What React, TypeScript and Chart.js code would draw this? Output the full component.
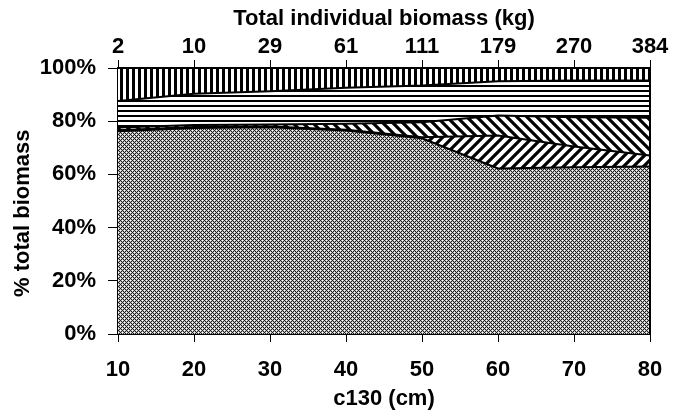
import React, { useEffect, useRef } from "react";
import { Chart, registerables } from "chart.js";

Chart.register(...registerables);

// c130 (cm) on the bottom axis
const c130Values = [10, 20, 30, 40, 50, 60, 70, 80];
// top axis labels: total individual biomass (kg)
const biomassLabels = ["2", "10", "29", "61", "111", "179", "270", "384"];
const yTickValues = [0, 20, 40, 60, 80, 100];

// layer shares (% of total biomass), bottom to top
const layerStipple = [76.2, 77.4, 77.7, 76.5, 73.6, 62.2, 62.7, 63.0];
const layerRising = [0.4, 0.4, 0.3, 0.3, 0.4, 12.4, 7.8, 4.1];
const layerFalling = [1.0, 0.8, 0.8, 2.2, 5.6, 7.5, 11.0, 14.2];
const layerHorizontal = [10.0, 11.7, 12.5, 13.6, 13.8, 12.9, 13.8, 14.0];
const layerVertical = [12.4, 9.7, 8.7, 7.4, 6.6, 5.0, 4.7, 4.7];

function makeTile(w: number, h: number, draw: (c: CanvasRenderingContext2D) => void) {
  const cv = document.createElement("canvas");
  cv.width = w;
  cv.height = h;
  const c = cv.getContext("2d")!;
  draw(c);
  return c.createPattern(cv, "repeat")!;
}

function stipplePattern() {
  return makeTile(4, 4, (c) => {
    for (let x = 0; x < 4; x++) {
      for (let y = 0; y < 4; y++) {
        let col = "#bdbdbd";
        if ((x + y) % 4 === 0 || (x - y + 4) % 4 === 0) col = "#1e1e1e";
        else if ((x === 2 && y === 0) || (x === 0 && y === 2)) col = "#fff";
        c.fillStyle = col;
        c.fillRect(x, y, 1, 1);
      }
    }
  });
}

function verticalPattern() {
  return makeTile(6, 1, (c) => {
    c.fillStyle = "#fff";
    c.fillRect(0, 0, 6, 1);
    c.fillStyle = "#000";
    c.fillRect(0, 0, 3, 1);
  });
}

function horizontalPattern() {
  return makeTile(1, 5, (c) => {
    c.fillStyle = "#fff";
    c.fillRect(0, 0, 1, 5);
    c.fillStyle = "#000";
    c.fillRect(0, 0, 1, 2);
  });
}

function diagPattern(rising: boolean) {
  const s = 10;
  return makeTile(s, s, (c) => {
    c.fillStyle = "#fff";
    c.fillRect(0, 0, s, s);
    c.strokeStyle = "#000";
    c.lineWidth = 3.2;
    c.beginPath();
    for (let k = -1; k <= 2; k++) {
      if (rising) {
        c.moveTo(-s, k * s + s);
        c.lineTo(2 * s, k * s - 2 * s);
      } else {
        c.moveTo(-s, k * s - s);
        c.lineTo(2 * s, k * s + 2 * s);
      }
    }
    c.stroke();
  });
}

const FONT = "'Liberation Sans', Arial, sans-serif";

export default function App() {
  const ref = useRef<HTMLCanvasElement | null>(null);

  useEffect(() => {
    if (!ref.current) return;
    const pts = (arr: number[]) => c130Values.map((x, i) => ({ x, y: arr[i] }));
    const layers = [
      { data: layerStipple, bg: stipplePattern() },
      { data: layerRising, bg: diagPattern(true) },
      { data: layerFalling, bg: diagPattern(false) },
      { data: layerHorizontal, bg: horizontalPattern() },
      { data: layerVertical, bg: verticalPattern() },
    ];

    const frame = {
      id: "frame",
      afterDraw(chart: any) {
        const { ctx, chartArea } = chart;
        ctx.save();
        ctx.strokeStyle = "#000";
        ctx.lineWidth = 2;
        ctx.beginPath();
        ctx.moveTo(chartArea.right, chartArea.top);
        ctx.lineTo(chartArea.right, chartArea.bottom);
        ctx.stroke();
        ctx.restore();
      },
    };

    const tickFont = { family: FONT, size: 22, weight: "bold" as const };

    const chart = new Chart(ref.current, {
      type: "line",
      data: {
        datasets: layers.map((l, i) => ({
          data: pts(l.data),
          backgroundColor: l.bg as any,
          borderColor: "#000",
          borderWidth: 2,
          pointRadius: 0,
          tension: 0,
          fill: i === 0 ? "origin" : "-1",
        })),
      },
      options: {
        animation: false,
        responsive: false,
        devicePixelRatio: 1,
        layout: { padding: { left: 0, right: 35, top: 0, bottom: 0 } },
        plugins: { legend: { display: false }, tooltip: { enabled: false } },
        scales: {
          x: {
            type: "linear",
            position: "bottom",
            min: 10,
            max: 80,
            afterFit: (s: any) => {
              s.height = 78;
            },
            afterBuildTicks: (s: any) => {
              s.ticks = c130Values.map((v) => ({ value: v }));
            },
            ticks: { font: tickFont, color: "#000", padding: 15, maxRotation: 0 },
            grid: { drawOnChartArea: false, tickLength: 8, color: "#000", tickWidth: 1 },
            border: { color: "#000", width: 2 },
            title: {
              display: true,
              text: "c130 (cm)",
              font: tickFont,
              color: "#000",
              padding: { top: 0, bottom: 0 },
            },
          },
          x2: {
            type: "linear",
            position: "top",
            min: 10,
            max: 80,
            afterFit: (s: any) => {
              s.height = 68;
            },
            afterBuildTicks: (s: any) => {
              s.ticks = c130Values.map((v) => ({ value: v }));
            },
            ticks: {
              font: tickFont,
              color: "#000",
              padding: 0,
              maxRotation: 0,
              callback: (v: any) => biomassLabels[c130Values.indexOf(Number(v))] ?? "",
            },
            grid: { drawOnChartArea: false, tickLength: 8, color: "#000", tickWidth: 1 },
            border: { color: "#000", width: 2 },
            title: {
              display: true,
              text: "Total individual biomass (kg)",
              font: tickFont,
              color: "#000",
              padding: { top: 6, bottom: 0 },
            },
          },
          y: {
            stacked: true,
            min: 0,
            max: 100,
            afterFit: (s: any) => {
              s.width = 118;
            },
            afterBuildTicks: (s: any) => {
              s.ticks = yTickValues.map((v) => ({ value: v }));
            },
            ticks: {
              font: tickFont,
              color: "#000",
              padding: 12,
              callback: (v: any) => v + "%",
            },
            grid: { drawOnChartArea: false, tickLength: 10, color: "#000", tickWidth: 1 },
            border: { color: "#000", width: 2 },
            title: {
              display: true,
              text: "% total biomass    ",
              font: tickFont,
              color: "#000",
              padding: { top: 10, bottom: 0 },
            },
          },
        },
      },
      plugins: [frame],
    });
    return () => chart.destroy();
  }, []);

  return (
    <div style={{ position: "fixed", left: 0, top: 0, width: 685, height: 412, background: "#fff" }}>
      <canvas ref={ref} width={685} height={412} />
    </div>
  );
}
